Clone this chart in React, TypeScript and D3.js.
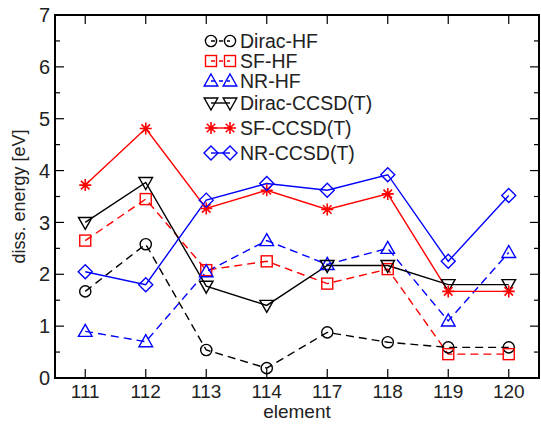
import React from "react";
import * as d3 from "d3";

const categories = ["111", "112", "113", "114", "117", "118", "119", "120"];
const diracHF = [1.67, 2.58, 0.54, 0.19, 0.88, 0.69, 0.59, 0.59];
const sfHF = [2.65, 3.45, 2.08, 2.25, 1.82, 2.1, 0.46, 0.46];
const nrHF = [0.9, 0.7, 2.05, 2.65, 2.19, 2.5, 1.1, 2.42];
const diracCC = [3.0, 3.77, 1.77, 1.4, 2.17, 2.17, 1.8, 1.8];
const sfCC = [3.72, 4.81, 3.27, 3.62, 3.25, 3.55, 1.67, 1.67];
const nrCC = [2.05, 1.8, 3.43, 3.75, 3.62, 3.92, 2.25, 3.52];
const yTicks = [0, 1, 2, 3, 4, 5, 6, 7];
const yMinor = [0.5, 1.5, 2.5, 3.5, 4.5, 5.5, 6.5];

type Series = { name: string; values: number[]; color: string; dashed: boolean; marker: string };
const series: Series[] = [
  { name: "Dirac-HF", values: diracHF, color: "#000000", dashed: true, marker: "circle" },
  { name: "SF-HF", values: sfHF, color: "#ff0000", dashed: true, marker: "square" },
  { name: "NR-HF", values: nrHF, color: "#0000ff", dashed: true, marker: "triUp" },
  { name: "Dirac-CCSD(T)", values: diracCC, color: "#000000", dashed: false, marker: "triDown" },
  { name: "SF-CCSD(T)", values: sfCC, color: "#ff0000", dashed: false, marker: "star" },
  { name: "NR-CCSD(T)", values: nrCC, color: "#0000ff", dashed: false, marker: "diamond" },
];
const legendY = [41, 61, 81, 103, 128, 153];

const W = 541, H = 425;
const L = 55, R = 539, T = 15, B = 378;
const FONT = "'Liberation Sans', Arial, Helvetica, sans-serif";

function Marker({ type, x, y, color }: { type: string; x: number; y: number; color: string }) {
  const sw = 1.4;
  switch (type) {
    case "circle":
      return <circle cx={x} cy={y} r={5.6} fill="none" stroke={color} strokeWidth={sw} />;
    case "square":
      return <rect x={x - 5.5} y={y - 5.5} width={11} height={11} fill="none" stroke={color} strokeWidth={sw} />;
    case "triUp":
      return <path d={`M${x},${y - 7} L${x + 6.8},${y + 5} L${x - 6.8},${y + 5} Z`} fill="none" stroke={color} strokeWidth={sw} />;
    case "triDown":
      return <path d={`M${x},${y + 7} L${x + 6.8},${y - 5} L${x - 6.8},${y - 5} Z`} fill="none" stroke={color} strokeWidth={sw} />;
    case "diamond":
      return <path d={`M${x},${y - 7} L${x + 7},${y} L${x},${y + 7} L${x - 7},${y} Z`} fill="none" stroke={color} strokeWidth={sw} />;
    case "star": {
      const r = 6;
      const d = [0, 45, 90, 135]
        .map((a) => {
          const rad = (a * Math.PI) / 180;
          const dx = r * Math.cos(rad), dy = r * Math.sin(rad);
          return `M${x - dx},${y - dy} L${x + dx},${y + dy}`;
        })
        .join(" ");
      return <path d={d} stroke={color} strokeWidth={1.6} fill="none" />;
    }
  }
  return null;
}

export default function App() {
  const x = d3.scaleLinear().domain([-0.5, categories.length - 0.5]).range([L, R]);
  const y = d3.scaleLinear().domain([0, 7]).range([B, T]);
  const line = d3
    .line<number>()
    .x((_, i) => x(i))
    .y((d) => y(d));

  return (
    <svg width={W} height={H} style={{ position: "absolute", left: 0, top: 0, background: "#fff" }}>
      <rect width={W} height={H} fill="#fff" />
      {yTicks.map((t) => (
        <g key={"yt" + t}>
          <line x1={L} x2={L + 9} y1={y(t)} y2={y(t)} stroke="#000" strokeWidth={1.2} />
          <line x1={R} x2={R - 9} y1={y(t)} y2={y(t)} stroke="#000" strokeWidth={1.2} />
          <text x={L - 5} y={y(t)} dy="0.36em" textAnchor="end" fontFamily={FONT} fontSize={20} fill="#222">
            {t}
          </text>
        </g>
      ))}
      {yMinor.map((t) => (
        <g key={"ym" + t}>
          <line x1={L} x2={L + 5} y1={y(t)} y2={y(t)} stroke="#000" strokeWidth={1.2} />
          <line x1={R} x2={R - 5} y1={y(t)} y2={y(t)} stroke="#000" strokeWidth={1.2} />
        </g>
      ))}
      {categories.map((c, i) => (
        <g key={"xt" + c}>
          <line x1={x(i)} x2={x(i)} y1={B} y2={B - 9} stroke="#000" strokeWidth={1.2} />
          <line x1={x(i)} x2={x(i)} y1={T} y2={T + 9} stroke="#000" strokeWidth={1.2} />
          <text x={x(i)} y={398} textAnchor="middle" fontFamily={FONT} fontSize={19} fill="#222">
            {c}
          </text>
        </g>
      ))}
      {series.map((s) => (
        <path
          key={"l" + s.name}
          d={line(s.values) || ""}
          fill="none"
          stroke={s.color}
          strokeWidth={1.4}
          strokeDasharray={s.dashed ? "8,5" : undefined}
        />
      ))}
      {series.map((s) => (
        <g key={"m" + s.name}>
          {s.values.map((v, i) => (
            <Marker key={i} type={s.marker} x={x(i)} y={y(v)} color={s.color} />
          ))}
        </g>
      ))}
      <rect x={L} y={T} width={R - L} height={B - T} fill="none" stroke="#000" strokeWidth={2} />
      {series.map((s, i) => (
        <g key={"lg" + s.name}>
          <line
            x1={211}
            x2={230}
            y1={legendY[i]}
            y2={legendY[i]}
            stroke={s.color}
            strokeWidth={1.4}
            strokeDasharray={s.dashed ? "4,4" : undefined}
          />
          <Marker type={s.marker} x={211} y={legendY[i]} color={s.color} />
          <Marker type={s.marker} x={230} y={legendY[i]} color={s.color} />
          <text x={240} y={legendY[i]} dy="0.36em" fontFamily={FONT} fontSize={19.5} fill="#222">
            {s.name}
          </text>
        </g>
      ))}
      <text x={(L + R) / 2} y={418} textAnchor="middle" fontFamily={FONT} fontSize={19} fill="#222">
        element
      </text>
      <text
        transform={`translate(25,${(T + B) / 2}) rotate(-90)`}
        textAnchor="middle"
        fontFamily={FONT}
        fontSize={18}
        fill="#222"
      >
        diss. energy [eV]
      </text>
    </svg>
  );
}
